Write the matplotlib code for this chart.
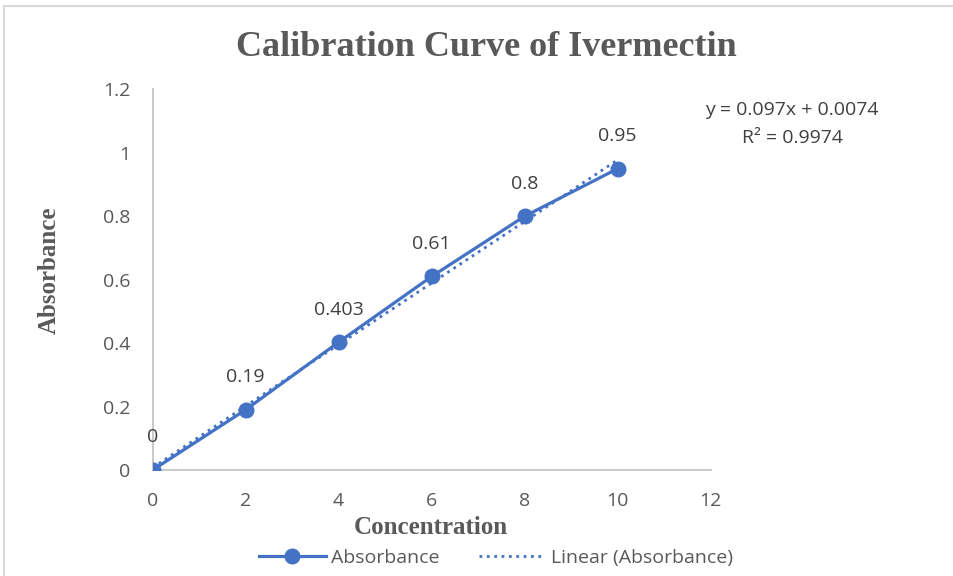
import matplotlib
matplotlib.use('Agg')
import matplotlib.pyplot as plt
from matplotlib.patches import Rectangle

conc = [0, 2, 4, 6, 8, 10]
absorb = [0, 0.19, 0.403, 0.61, 0.8, 0.95]
labels = ['0', '0.19', '0.403', '0.61', '0.8', '0.95']
slope = 0.097
icpt = 0.0074

blue = '#4472C4'
grey = '#595959'
sans = ['Open Sans', 'DejaVu Sans']
serif = ['Liberation Serif', 'DejaVu Serif']

fig = plt.figure(figsize=(9.54, 5.76), dpi=100)
ax = fig.add_axes([0.160, 0.184, 0.585, 0.661])

# trendline
tx = [conc[0], conc[-1]]
ty = [slope * x + icpt for x in tx]
ax.plot(tx, ty, ls=':', lw=2, color=blue, label='Linear (Absorbance)', zorder=2)
ax.plot(conc, absorb, '-o', lw=2.3, ms=10.5, color=blue, label='Absorbance', zorder=3)

for x, y, s in zip(conc, absorb, labels):
    ax.annotate(s, (x, y), xytext=(0, 17), textcoords='offset points',
                ha='center', va='bottom', fontsize=14, color='#404040', family=sans)

ax.text(13.75, 1.134, 'y = 0.097x + 0.0074', ha='center', va='center',
        fontsize=14, color='#404040', family=sans, clip_on=False)
ax.text(13.75, 1.045, 'R² = 0.9974', ha='center', va='center',
        fontsize=14, color='#404040', family=sans, clip_on=False)

ax.set_xlim(0, 12)
ax.set_ylim(0, 1.2)
ax.set_xticks(range(0, 13, 2))
ax.set_yticks([0, 0.2, 0.4, 0.6, 0.8, 1, 1.2])
ax.set_yticklabels(['0', '0.2', '0.4', '0.6', '0.8', '1', '1.2'])
ax.tick_params(length=0, labelsize=14, labelcolor=grey)
ax.tick_params(axis='x', pad=16)
ax.tick_params(axis='y', pad=16)
for lab in ax.get_xticklabels() + ax.get_yticklabels():
    lab.set_family(sans)
for s in ['top', 'right']:
    ax.spines[s].set_visible(False)
for s in ['left', 'bottom']:
    ax.spines[s].set_color('#BFBFBF')
    ax.spines[s].set_linewidth(1.2)

fig.text(0.51, 0.918, 'Calibration Curve of Ivermectin', ha='center', va='center',
         fontsize=26, fontweight='bold', color=grey, family=serif)
fig.text(0.052, 0.53, 'Absorbance', rotation=90, ha='center', va='center',
         fontsize=18, fontweight='bold', color=grey, family=serif)
fig.text(0.452, 0.085, 'Concentration', ha='center', va='center',
         fontsize=18, fontweight='bold', color=grey, family=serif)

h, l = ax.get_legend_handles_labels()
leg = fig.legend(h[::-1], l[::-1], loc='center', bbox_to_anchor=(0.52, 0.032), ncol=2,
                 frameon=False, fontsize=14, handlelength=3.4, columnspacing=2.0,
                 handletextpad=0.3)
for t in leg.get_texts():
    t.set_color(grey)
    t.set_family(sans)

fig.patches.append(Rectangle((0.004, -0.01), 1.1, 1.0, transform=fig.transFigure,
                             fill=False, edgecolor='#D9D9D9', lw=1.5))

plt.savefig('out.png')
